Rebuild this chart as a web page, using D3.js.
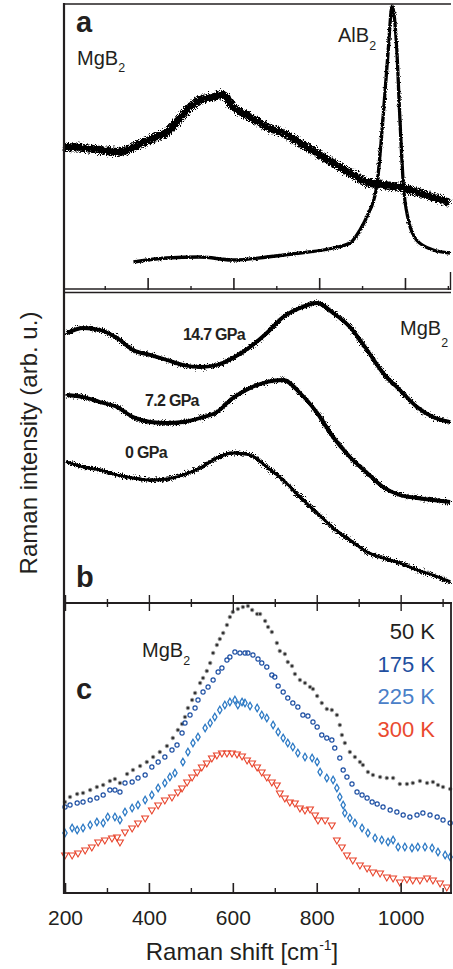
<!doctype html>
<html>
<head>
<script src="https://d3js.org/d3.v7.min.js"></script>
<style>
  body { margin: 0; background: #fff; }
  text { font-family: "Liberation Sans", Arial, sans-serif; fill: #231f20; }
</style>
</head>
<body>
<div id="chart"></div>
<script>
// ---- panel a : MgB2 and AlB2 ----
var shiftA_MgB2 = [205,212,249,289,329,352,382,413,445,468,492,522,552,576,599,639,678,716,755,795,832,872,911,949,988,1028,1065,1105];
var intA_MgB2   = [144,143,142,140,138,140,146,152,158,168,180,190,193,195,183,173,163,157,147,137,127,117,108,105,103,98,93,87];
var shiftA_AlB2 = [367,444,522,600,678,755,833,872,895,911,934,949,961,970,981,988,996,1008,1027,1066,1105];
var intA_AlB2   = [28,32,33,30,33,37,42,47,60,73,103,173,240,284,240,173,107,70,50,40,37];

// ---- panel b : pressure series ----
var shiftB = [205,243,283,324,362,403,443,481,522,562,600,641,681,720,760,801,839,879,920,958,998,1039,1077,1118];
var int147 = [270,275,273,265,253,248,243,238,236,238,245,256,270,286,295,300,290,276,253,230,213,196,186,181];
var int72  = [208,206,201,196,186,181,180,181,185,191,205,215,221,223,210,190,166,146,130,116,108,105,103,101];
var int0   = [141,136,133,128,125,123,124,128,135,145,150,148,136,123,106,90,75,63,51,45,40,33,28,21];
var pressLabels = ["14.7 GPa", "7.2 GPa", "0 GPa"];

// ---- panel c : temperature series [shift, intensity] ----
var k50 = [[200,91],[212,96],[229,99],[243,100],[260,103],[276,106],[291,108],[307,112],[319,114],[331,110],
  [348,119],[362,123],[379,127],[395,131],[410,136],[426,141],[443,147],[457,155],[469,163],[479,169],
  [486,176],[493,185],[503,193],[510,200],[522,210],[529,215],[538,222],[546,230],[553,240],[562,248],
  [569,254],[577,260],[586,268],[593,276],[600,281],[612,284],[624,286],[636,287],[646,283],[658,279],
  [665,279],[677,272],[684,266],[693,261],[705,250],[712,242],[724,239],[731,231],[741,227],[748,219],
  [760,213],[772,210],[784,206],[791,204],[801,197],[812,190],[824,184],[836,183],[848,178],[855,168],
  [860,158],[867,150],[879,141],[891,136],[903,131],[910,128],[922,121],[934,118],[951,116],[967,115],
  [982,115],[998,109],[1015,109],[1029,110],[1046,112],[1063,110],[1077,111],[1089,108],[1101,106],[1118,104]];
var k175 = [[200,86],[212,88],[229,90],[243,91],[260,93],[276,95],[291,98],[307,103],[319,103],[331,101],
  [343,110],[360,111],[374,115],[391,118],[407,126],[422,131],[438,136],[455,143],[467,148],[479,160],
  [486,170],[498,178],[510,185],[517,193],[529,201],[541,206],[553,213],[565,221],[574,225],[586,233],
  [593,236],[605,241],[617,240],[629,240],[636,240],[648,238],[660,234],[669,230],[681,226],[693,218],
  [700,216],[708,207],[720,201],[731,195],[743,190],[755,186],[767,178],[779,177],[791,171],[801,166],
  [812,158],[824,155],[836,153],[843,145],[855,135],[863,123],[872,116],[884,109],[896,101],[908,98],
  [920,95],[932,91],[944,89],[958,86],[975,83],[991,81],[1006,78],[1022,76],[1039,78],[1053,80],
  [1070,78],[1087,76],[1101,73],[1118,70]];
var k225 = [[200,60],[217,65],[229,63],[243,65],[260,68],[276,71],[291,70],[302,76],[319,76],[331,73],
  [343,81],[360,85],[374,88],[391,93],[407,98],[422,105],[438,110],[450,116],[462,120],[481,131],
  [493,141],[505,150],[517,156],[534,165],[546,170],[557,176],[569,183],[581,188],[593,191],[605,193],
  [612,188],[622,191],[629,190],[641,187],[658,185],[669,178],[681,175],[696,168],[708,161],[720,155],
  [731,150],[743,146],[755,140],[772,136],[789,135],[801,131],[808,121],[824,115],[839,113],[848,105],
  [855,96],[863,88],[867,80],[879,75],[891,70],[908,65],[922,60],[939,55],[955,53],[970,51],
  [982,53],[994,46],[1010,46],[1027,45],[1041,46],[1058,46],[1075,45],[1089,41],[1106,38],[1118,36]];
var k300 = [[200,38],[217,38],[231,40],[248,43],[264,46],[279,51],[295,53],[312,55],[324,56],[331,51],
  [343,61],[360,65],[374,70],[391,75],[407,83],[422,88],[438,93],[455,96],[469,101],[479,105],
  [491,111],[503,116],[515,121],[526,126],[538,130],[550,135],[562,138],[574,140],[586,140],[598,140],
  [610,139],[622,137],[634,133],[646,130],[658,126],[669,121],[681,116],[693,111],[705,108],[712,100],
  [724,95],[736,91],[748,90],[760,85],[772,83],[784,84],[796,78],[803,73],[820,73],[836,68],
  [848,53],[860,46],[872,38],[886,33],[903,28],[920,25],[934,21],[951,20],[967,16],[982,15],
  [998,11],[1015,14],[1029,13],[1046,13],[1063,15],[1077,13],[1094,10],[1110,6]];
var tempLabels = ["50 K", "175 K", "225 K", "300 K"];

var majorTicks = [200, 400, 600, 800, 1000];
var minorTicks = [300, 500, 700, 900, 1100];

var W = 453, H = 969;
var svg = d3.select("#chart").append("svg").attr("width", W).attr("height", H);

// noisy-trace texture
var defs = svg.append("defs");
function rough(id, freq, scale, seed) {
  var f = defs.append("filter").attr("id", id)
    .attr("x", "-5%").attr("y", "-20%").attr("width", "110%").attr("height", "140%");
  f.append("feTurbulence").attr("type", "fractalNoise").attr("baseFrequency", freq)
    .attr("numOctaves", 2).attr("seed", seed).attr("result", "n");
  f.append("feDisplacementMap").attr("in", "SourceGraphic").attr("in2", "n")
    .attr("scale", scale).attr("xChannelSelector", "R").attr("yChannelSelector", "G");
}
rough("roughA", 1.4, 8, 2);
rough("roughA2", 1.2, 3, 5);
rough("roughB", 1.1, 9, 7);

var xA = d3.scaleLinear().domain([205, 1105]).range([64, 450]);
var xB = d3.scaleLinear().domain([200, 1120]).range([65, 451]);
var yA = d3.scaleLinear().domain([0, 286]).range([290, 4]);
var yB = d3.scaleLinear().domain([0, 312]).range([603, 291]);
var yC = d3.scaleLinear().domain([0, 290]).range([893, 603]);

var ink = "#231f20";

// ---------- panel a ----------
var lineA = d3.line().x(function(d) { return xA(d[0]); }).y(function(d) { return yA(d[1]); })
  .curve(d3.curveMonotoneX);
svg.append("path").datum(d3.zip(shiftA_MgB2, intA_MgB2)).attr("d", lineA)
  .attr("fill", "none").attr("stroke", "#000").attr("stroke-width", 8).attr("filter", "url(#roughA)");
svg.append("path").datum(d3.zip(shiftA_AlB2, intA_AlB2)).attr("d", lineA)
  .attr("fill", "none").attr("stroke", "#000").attr("stroke-width", 3.3).attr("filter", "url(#roughA2)");

svg.append("g").attr("transform", "translate(0,290)")
  .call(d3.axisBottom(xA).tickValues([400, 600, 800, 1000]).tickSize(-12).tickFormat(""))
  .call(function(g) { g.select(".domain").remove(); g.selectAll("line").attr("stroke", ink).attr("stroke-width", 1.6); });
svg.append("g").attr("transform", "translate(0,290)")
  .call(d3.axisBottom(xA).tickValues(minorTicks).tickSize(-4).tickFormat(""))
  .call(function(g) { g.select(".domain").remove(); g.selectAll("line").attr("stroke", ink).attr("stroke-width", 1.4); });

// ---------- panel b ----------
var lineB = d3.line().x(function(d) { return xB(d[0]); }).y(function(d) { return yB(d[1]); })
  .curve(d3.curveMonotoneX);
[int147, int72, int0].forEach(function(vals, i) {
  var pts = d3.zip(shiftB, vals);
  svg.append("path").datum(pts).attr("d", lineB).attr("fill", "none")
    .attr("stroke", "#000").attr("stroke-width", i === 2 ? 2.8 : 3.8);
  svg.append("path").datum(pts).attr("d", lineB).attr("fill", "none")
    .attr("stroke", "#000").attr("stroke-width", 3.4).attr("stroke-linecap", "round")
    .attr("stroke-dasharray", "0.3 2.2").attr("filter", "url(#roughB)");
});

svg.append("g").attr("transform", "translate(0,603)")
  .call(d3.axisBottom(xB).tickValues(majorTicks).tickSize(-8).tickFormat(""))
  .call(function(g) { g.select(".domain").remove(); g.selectAll("line").attr("stroke", ink).attr("stroke-width", 1.4); });
svg.append("g").attr("transform", "translate(0,603)")
  .call(d3.axisBottom(xB).tickValues(minorTicks).tickSize(-4).tickFormat(""))
  .call(function(g) { g.select(".domain").remove(); g.selectAll("line").attr("stroke", ink).attr("stroke-width", 1.4); });

// ---------- panel c ----------
var gx = function(d) { return xB(d[0]); }, gy = function(d) { return yC(d[1]); };
svg.append("g").selectAll("circle").data(k50).join("circle")
  .attr("cx", gx).attr("cy", gy).attr("r", 1.8)
  .attr("fill", "#333").attr("stroke", "#999").attr("stroke-width", 0.8);
svg.append("g").selectAll("circle").data(k175).join("circle")
  .attr("cx", gx).attr("cy", gy).attr("r", 2.1)
  .attr("fill", "none").attr("stroke", "#1d4fa3").attr("stroke-width", 1.2);
svg.append("g").selectAll("path").data(k225).join("path")
  .attr("d", d3.symbol().type(d3.symbolDiamond).size(16))
  .attr("transform", function(d) { return "translate(" + gx(d) + "," + gy(d) + ")"; })
  .attr("fill", "none").attr("stroke", "#2a78c4").attr("stroke-width", 1.3);
svg.append("g").selectAll("path").data(k300).join("path")
  .attr("d", d3.symbol().type(d3.symbolTriangle).size(20))
  .attr("transform", function(d) { return "translate(" + gx(d) + "," + gy(d) + ") rotate(180)"; })
  .attr("fill", "none").attr("stroke", "#e8432b").attr("stroke-width", 1.1);

svg.append("g").attr("transform", "translate(0,603)")
  .call(d3.axisTop(xB).tickValues(majorTicks).tickSize(-8).tickFormat(""))
  .call(function(g) { g.select(".domain").remove(); g.selectAll("line").attr("stroke", ink).attr("stroke-width", 1.4); });
svg.append("g").attr("transform", "translate(0,603)")
  .call(d3.axisTop(xB).tickValues(minorTicks).tickSize(-4).tickFormat(""))
  .call(function(g) { g.select(".domain").remove(); g.selectAll("line").attr("stroke", ink).attr("stroke-width", 1.4); });

var xAxisC = svg.append("g").attr("transform", "translate(0,893)")
  .call(d3.axisBottom(xB).tickValues(majorTicks).tickSize(-10).tickPadding(17).tickFormat(d3.format("d")));
xAxisC.select(".domain").remove();
xAxisC.selectAll("line").attr("stroke", ink).attr("stroke-width", 1.6);
xAxisC.selectAll("text").attr("font-size", 21).attr("font-family", "Liberation Sans, Arial, sans-serif").attr("fill", ink);
svg.append("g").attr("transform", "translate(0,893)")
  .call(d3.axisBottom(xB).tickValues(minorTicks).tickSize(-5).tickFormat(""))
  .call(function(g) { g.select(".domain").remove(); g.selectAll("line").attr("stroke", ink).attr("stroke-width", 1.4); });

// ---------- frames ----------
function hline(y, x1, x2, w) {
  svg.append("line").attr("x1", x1).attr("x2", x2).attr("y1", y).attr("y2", y)
    .attr("stroke", ink).attr("stroke-width", w);
}
function vline(x, y1, y2, w) {
  svg.append("line").attr("x1", x).attr("x2", x).attr("y1", y1).attr("y2", y2)
    .attr("stroke", ink).attr("stroke-width", w);
}
hline(4, 63, 451, 1.6);
hline(289, 63, 451, 1.6);
hline(292.5, 63, 451, 1.6);
hline(603, 63, 452, 1.8);
hline(893, 63, 452, 2);
vline(64, 3, 894, 2.2);
vline(450.5, 272, 290, 1.4);
vline(451, 603, 894, 1.8);

// ---------- text ----------
function label(x, y, txt, size, weight, anchor, color) {
  return svg.append("text").attr("x", x).attr("y", y).attr("font-size", size)
    .attr("font-weight", weight || "normal").attr("text-anchor", anchor || "start")
    .style("fill", color || ink).text(txt);
}
function chem(x, y, base, size, dy) {
  var t = svg.append("text").attr("x", x).attr("y", y).attr("font-size", size);
  t.append("tspan").text(base);
  t.append("tspan").attr("font-size", size * 0.62).attr("dy", dy).text("2");
}

label(76, 32, "a", 29, "bold");
chem(77, 65, "MgB", 20, 7);
chem(338, 42, "AlB", 20, 8);

chem(400, 335, "MgB", 20, 12);
label(183, 340, pressLabels[0], 16, "bold").attr("letter-spacing", -0.7);
label(145, 406, pressLabels[1], 16, "bold").attr("letter-spacing", -0.7);
label(125, 458, pressLabels[2], 16, "bold").attr("letter-spacing", -0.7);
label(76, 587, "b", 29, "bold");

chem(142, 657, "MgB", 20, 8);
label(76, 699, "c", 29, "bold");
var legendColors = ["#231f20", "#1f4fa0", "#4a80c8", "#ea4a2f"];
tempLabels.forEach(function(t, i) {
  label(435, 639 + i * 32.7, t, 22, "normal", "end", legendColors[i]);
});

svg.append("text").attr("transform", "translate(37,443) rotate(-90)")
  .attr("text-anchor", "middle").attr("font-size", 24).text("Raman intensity (arb. u.)");

var xt = svg.append("text").attr("x", 242).attr("y", 960).attr("text-anchor", "middle").attr("font-size", 24);
xt.append("tspan").text("Raman shift [cm");
xt.append("tspan").attr("font-size", 14).attr("dy", -10).text("-1");
xt.append("tspan").attr("dy", 10).text("]");
</script>
</body>
</html>
